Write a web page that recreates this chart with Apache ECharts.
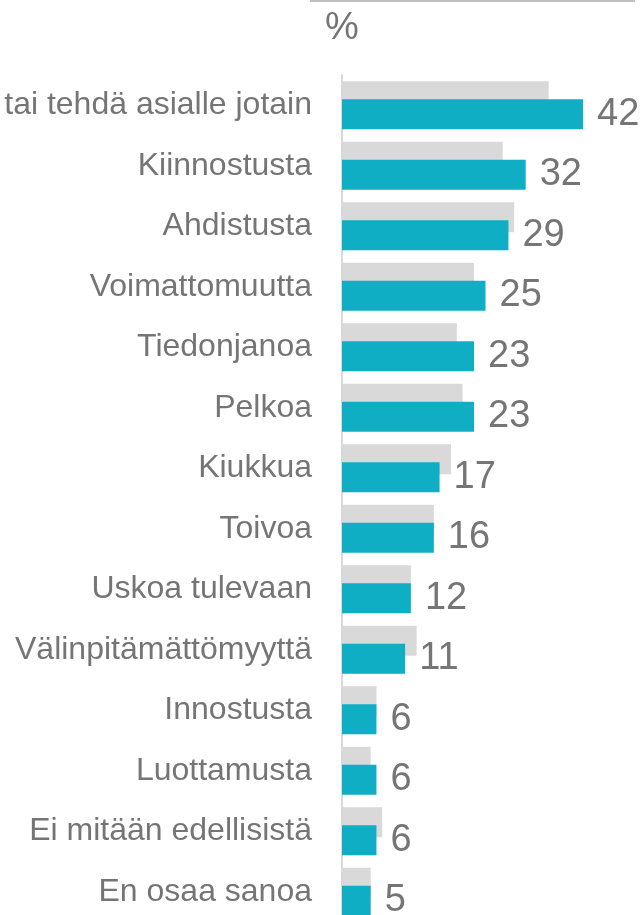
<!DOCTYPE html>
<html>
<head>
<meta charset="utf-8">
<style>
  html, body { margin: 0; padding: 0; background: #ffffff; }
  #chart { width: 644px; height: 915px; }
</style>
<script src="https://cdn.jsdelivr.net/npm/echarts@6/dist/echarts.min.js"></script>
</head>
<body>
<div id="chart"></div>
<script>
// Feelings reported, share of respondents (%)
const categories = [
  'tai tehdä asialle jotain',
  'Kiinnostusta',
  'Ahdistusta',
  'Voimattomuutta',
  'Tiedonjanoa',
  'Pelkoa',
  'Kiukkua',
  'Toivoa',
  'Uskoa tulevaan',
  'Välinpitämättömyyttä',
  'Innostusta',
  'Luottamusta',
  'Ei mitään edellisistä',
  'En osaa sanoa'
];
// Current survey round (labelled)
const currentValues = [42, 32, 29, 25, 23, 23, 17, 16, 12, 11, 6, 6, 6, 5];
// Earlier round, drawn as grey comparison bars
const previousValues = [36, 28, 30, 23, 20, 21, 19, 16, 12, 13, 6, 5, 7, 5];
const unitLabel = '%';

const TEXT = '#757575';
const FONT = '"Liberation Sans", Arial, sans-serif';

const chart = echarts.init(document.getElementById('chart'), null, { renderer: 'canvas' });

chart.setOption({
  animation: false,
  backgroundColor: '#ffffff',
  grid: {
    left: 342,
    top: 75,
    width: 287,
    height: 847,
    containLabel: false,
    outerBoundsMode: 'none'
  },
  xAxis: {
    type: 'value',
    min: 0,
    max: 50,
    show: false
  },
  yAxis: {
    type: 'category',
    data: categories,
    inverse: true,
    axisLine: { show: true, lineStyle: { color: '#d9d9d9', width: 2 } },
    axisTick: { show: false },
    axisLabel: {
      margin: 30,
      color: TEXT,
      fontFamily: FONT,
      fontSize: 32
    },
    splitLine: { show: false }
  },
  graphic: [
    {
      type: 'line',
      shape: { x1: 310, y1: 1, x2: 635, y2: 1 },
      style: { stroke: '#bfbfbf', lineWidth: 2 }
    },
    {
      type: 'text',
      x: 325,
      y: 29,
      style: {
        text: unitLabel,
        fill: TEXT,
        font: '38px ' + FONT,
        verticalAlign: 'middle',
        align: 'left'
      }
    }
  ],
  series: [
    {
      name: 'previous',
      type: 'bar',
      data: previousValues,
      barWidth: 30,
      barGap: '-40%',
      itemStyle: { color: '#d9d9d9' },
      label: { show: false }
    },
    {
      name: 'current',
      type: 'bar',
      data: currentValues,
      barWidth: 30,
      barGap: '-40%',
      itemStyle: { color: '#0faec5' },
      label: {
        show: true,
        position: 'right',
        distance: 14,
        color: TEXT,
        fontFamily: FONT,
        fontSize: 38
      }
    }
  ]
});
</script>
</body>
</html>
